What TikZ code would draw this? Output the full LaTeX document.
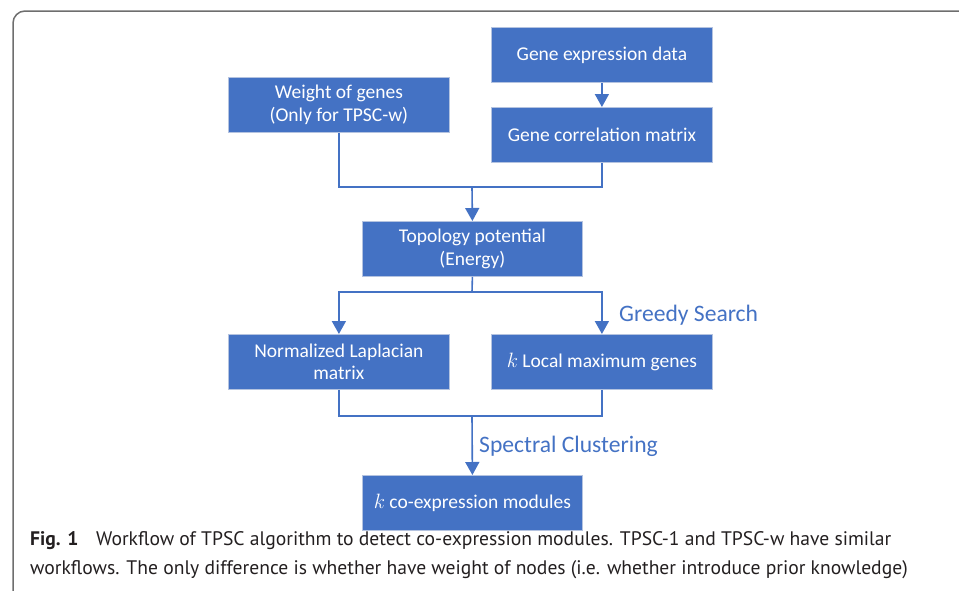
\documentclass[tikz,border=0pt]{standalone}
\usepackage{fontspec}
\setmainfont{Carlito}
\newfontfamily\capfont{PT Sans}
\usetikzlibrary{arrows.meta}
\definecolor{boxblue}{HTML}{4472C4}
\definecolor{boxedge}{HTML}{B4C3E0}
\definecolor{framegray}{HTML}{6E6E6E}
\definecolor{captext}{HTML}{231F20}
\tikzset{
  box/.style={rectangle, fill=boxblue, draw=boxedge, line width=0.8pt, text=white,
    minimum width=221pt, minimum height=55pt, anchor=north west, align=center,
    inner sep=0pt, font=\fontsize{19.5}{22.5}\selectfont},
  conn/.style={draw=boxblue, line width=1.6pt},
  arr/.style={conn, -{Triangle[width=14pt,length=13pt]}},
  lbl/.style={text=boxblue, font=\fontsize{23.6}{26}\selectfont, anchor=base west, inner sep=0pt},
  captionline/.style={text=captext, font=\capfont\fontsize{19.6}{22}\selectfont, anchor=base west, inner sep=0pt}
}
\begin{document}
\begin{tikzpicture}[x=1pt,y=-1pt]
\useasboundingbox (0,0) rectangle (959,590);
\begin{scope}
\clip (0,0) rectangle (959,590);
\draw[framegray, line width=1.5pt, rounded corners=12pt] (13,620) -- (13,11) -- (990,11);
\end{scope}

\node[box] (ged) at (491,27) {Gene expression data};
\node[box] (gcm) at (491,107) {Gene correlation matrix};
\node[box] (wg) at (228,77) {Weight of genes\\(Only for TPSC-w)};
\node[box, minimum width=220pt] (tp) at (362,221) {Topology potential\\(Energy)};
\node[box] (nl) at (228,334) {Normalized Laplacian\\matrix};
\node[box] (lm) at (491,334) {$k$ Local maximum genes};
\node[box, minimum width=220pt] (cm) at (362,475) {$k$ co-expression modules};

\coordinate (j1) at (472,187);
\coordinate (j2) at (472,292);
\coordinate (j3) at (472,416);

\draw[arr] (ged.south) -- (gcm.north);
\draw[conn] (wg.south) |- (j1);
\draw[conn] (gcm.south) |- (j1);
\draw[arr] (j1) -- (tp.north);
\draw[conn] (tp.south) -- (j2);
\draw[arr] (j2) -| (nl.north);
\draw[arr] (j2) -| (lm.north);
\draw[conn] (nl.south) |- (j3);
\draw[conn] (lm.south) |- (j3);
\draw[arr] (j3) -- (cm.north);

\node[lbl] (gs) at (619,321) {Greedy Search};
\node[lbl] (sc) at (479,452) {Spectral Clustering};

\node[captionline] (c1) at (30,545) {\textbf{Fig. 1}\hspace{0.9em}Workflow of TPSC algorithm to detect co-expression modules. TPSC-1 and TPSC-w have similar};
\node[captionline] (c2) at (30,574) {workflows. The only difference is whether have weight of nodes (i.e. whether introduce prior knowledge)};
\end{tikzpicture}
\end{document}
